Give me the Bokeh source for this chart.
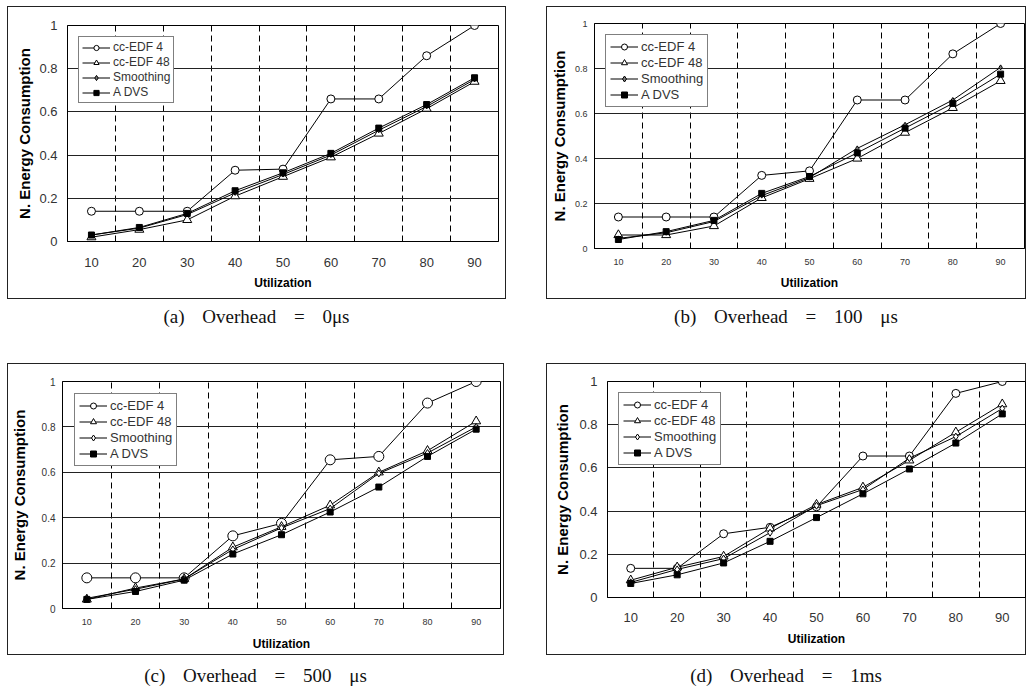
from bokeh.plotting import figure
from bokeh.models import (Range1d, FixedTicker, Legend, LegendItem, Div, Spacer,
                          ColumnDataSource, CustomJSTickFormatter)
from bokeh.layouts import column, row
from bokeh.embed import file_html
from bokeh.resources import INLINE

# ---------------- data ----------------
utilization = [10, 20, 30, 40, 50, 60, 70, 80, 90]
series_names = ["cc-EDF 4", "cc-EDF 48", "Smoothing", "A DVS"]

# (a) Overhead = 0us
a_ccedf4 = [0.14, 0.14, 0.14, 0.33, 0.335, 0.66, 0.66, 0.86, 1.0]
a_ccedf48 = [0.02, 0.055, 0.10, 0.21, 0.30, 0.39, 0.50, 0.615, 0.74]
a_smoothing = [0.03, 0.062, 0.125, 0.225, 0.31, 0.40, 0.515, 0.625, 0.75]
a_advs = [0.03, 0.065, 0.13, 0.235, 0.318, 0.408, 0.525, 0.634, 0.758]

# (b) Overhead = 100 us
b_ccedf4 = [0.14, 0.14, 0.14, 0.325, 0.345, 0.66, 0.66, 0.865, 1.0]
b_ccedf48 = [0.06, 0.06, 0.10, 0.225, 0.31, 0.40, 0.515, 0.625, 0.745]
b_smoothing = [0.045, 0.07, 0.12, 0.235, 0.315, 0.445, 0.55, 0.66, 0.805]
b_advs = [0.04, 0.075, 0.125, 0.245, 0.32, 0.425, 0.535, 0.645, 0.775]

# (c) Overhead = 500 us
c_ccedf4 = [0.135, 0.135, 0.135, 0.32, 0.375, 0.655, 0.67, 0.905, 1.0]
c_ccedf48 = [0.04, 0.09, 0.13, 0.27, 0.36, 0.455, 0.60, 0.695, 0.825]
c_smoothing = [0.045, 0.085, 0.13, 0.26, 0.355, 0.44, 0.595, 0.685, 0.80]
c_advs = [0.04, 0.075, 0.125, 0.24, 0.325, 0.425, 0.535, 0.67, 0.79]

# (d) Overhead = 1ms
d_ccedf4 = [0.135, 0.135, 0.295, 0.325, 0.42, 0.655, 0.655, 0.945, 1.0]
d_ccedf48 = [0.08, 0.14, 0.19, 0.32, 0.43, 0.51, 0.635, 0.765, 0.895]
d_smoothing = [0.07, 0.13, 0.18, 0.30, 0.425, 0.50, 0.645, 0.745, 0.875]
d_advs = [0.065, 0.105, 0.16, 0.26, 0.37, 0.48, 0.595, 0.715, 0.85]

x_tick_labels = ["10", "20", "30", "40", "50", "60", "70", "80", "90"]
x_divider_lines = [15, 25, 35, 45, 55, 65, 75, 85]
y_ticks = [0, 0.2, 0.4, 0.6, 0.8, 1.0]
y_tick_labels = ["0", "0.2", "0.4", "0.6", "0.8", "1"]
y_grid_lines = [0.2, 0.4, 0.6, 0.8]

captions = ["(a) Overhead = 0\u03bcs", "(b) Overhead = 100 \u03bcs",
            "(c) Overhead = 500 \u03bcs", "(d) Overhead = 1ms"]
y_label = "N. Energy Consumption"
x_label = "Utilization"

SANS = "Liberation Sans"


def make_panel(series, width, height, left, right, top, bottom,
               ytick_size, xtick_size, ytick_standoff, ylabel_standoff,
               xtick_standoff, xlabel_standoff, ylabel_size,
               legend_margin, legend_font, legend_item_h, legend_spacing,
               legend_padding, sizes, diamond_fill):
    p = figure(width=width, height=height, x_range=Range1d(5, 95),
               y_range=Range1d(0, 1), output_backend="svg",
               toolbar_location=None, min_border_left=left,
               min_border_right=right, min_border_top=top,
               min_border_bottom=bottom,
               styles={"outline": "1px solid #222", "outline-offset": "-1px",
                       "background-color": "white"})
    p.outline_line_color = "black"
    p.outline_line_width = 1
    p.background_fill_color = "white"
    p.border_fill_color = None

    # x axis
    p.xaxis.ticker = FixedTicker(ticks=utilization)
    p.xaxis.formatter = CustomJSTickFormatter(args=dict(labels=x_tick_labels),
                                              code="return labels[index];")
    p.xaxis.major_tick_line_color = None
    p.xaxis.major_tick_out = 0
    p.xaxis.major_tick_in = 0
    p.xaxis.minor_tick_line_color = None
    p.xaxis.minor_tick_out = 0
    p.xaxis.axis_line_color = "black"
    p.xaxis.major_label_text_font = SANS
    p.xaxis.major_label_text_font_size = f"{xtick_size}px"
    p.xaxis.major_label_text_color = "#333333"
    p.xaxis.major_label_standoff = xtick_standoff
    p.xaxis.axis_label = x_label
    p.xaxis.axis_label_text_font = SANS
    p.xaxis.axis_label_text_font_style = "bold"
    p.xaxis.axis_label_text_font_size = "12px"
    p.xaxis.axis_label_text_color = "black"
    p.xaxis.axis_label_standoff = xlabel_standoff

    # y axis
    p.yaxis.ticker = FixedTicker(ticks=y_ticks)
    p.yaxis.formatter = CustomJSTickFormatter(args=dict(labels=y_tick_labels),
                                              code="return labels[index];")
    p.yaxis.major_tick_line_color = None
    p.yaxis.major_tick_out = 0
    p.yaxis.major_tick_in = 0
    p.yaxis.minor_tick_line_color = None
    p.yaxis.minor_tick_out = 0
    p.yaxis.axis_line_color = "black"
    p.yaxis.major_label_text_font = SANS
    p.yaxis.major_label_text_font_size = f"{ytick_size}px"
    p.yaxis.major_label_text_color = "#333333"
    p.yaxis.major_label_standoff = ytick_standoff
    p.yaxis.axis_label = y_label
    p.yaxis.axis_label_text_font = SANS
    p.yaxis.axis_label_text_font_style = "bold"
    p.yaxis.axis_label_text_font_size = f"{ylabel_size}px"
    p.yaxis.axis_label_text_color = "black"
    p.yaxis.axis_label_standoff = ylabel_standoff

    # grids
    p.xgrid.ticker = FixedTicker(ticks=x_divider_lines)
    p.xgrid.grid_line_color = "black"
    p.xgrid.grid_line_dash = "6 4"
    p.xgrid.grid_line_width = 1
    p.ygrid.ticker = FixedTicker(ticks=y_grid_lines)
    p.ygrid.grid_line_color = "#222222"
    p.ygrid.grid_line_width = 1

    markers = ["circle", "triangle", "diamond", "square"]
    fills = ["white", "white", diamond_fill, "black"]
    items = []
    for name, vals, mk, fc, sz in zip(series_names, series, markers, fills, sizes):
        src = ColumnDataSource(dict(x=utilization, y=vals))
        lr = p.line("x", "y", source=src, line_color="black", line_width=1)
        sr = p.scatter("x", "y", source=src, marker=mk, size=sz,
                       fill_color=fc, line_color="black", line_width=1)
        items.append(LegendItem(label=name, renderers=[lr, sr]))

    legend = Legend(items=items, location="top_left")
    legend.margin = legend_margin
    legend.padding = legend_padding
    legend.spacing = legend_spacing
    legend.glyph_width = 28
    legend.glyph_height = legend_item_h
    legend.label_height = legend_item_h
    legend.label_standoff = 3
    legend.label_text_font = SANS
    legend.label_text_font_size = f"{legend_font}px"
    legend.label_text_color = "#333333"
    legend.border_line_color = "black"
    legend.border_line_width = 1
    legend.background_fill_color = "white"
    legend.background_fill_alpha = 1
    p.add_layout(legend)
    return p


def caption(text, width, height, top):
    html = (f'<div style="width:{width}px;text-align:center;'
            f'font-family:\'Liberation Serif\',serif;font-size:19px;line-height:22px;'
            f'word-spacing:13px;color:#111;margin:{top}px 0 0 0;white-space:nowrap">{text}</div>')
    return Div(text=html, width=width, height=height, margin=0)


pa = make_panel([a_ccedf4, a_ccedf48, a_smoothing, a_advs], 499, 293,
                60, 8, 19, 58, 13, 13, 10, 3, 16, 6, 15,
                11, 12, 13, 1, 3, [8, 9, 5, 6], "#777777")
pb = make_panel([b_ccedf4, b_ccedf48, b_smoothing, b_advs], 480, 293,
                48, 2, 17, 51, 9, 9, 7, 4, 10, 8, 15,
                11, 13, 15, 1, 4, [8, 9, 5, 6], "#777777")
pc = make_panel([c_ccedf4, c_ccedf48, c_smoothing, c_advs], 497, 292,
                47, 4, 18, 47, 10, 9, 7, 11, 10, 9, 15,
                12, 13, 15, 1, 4, [10, 9, 7, 6], "white")
pd = make_panel([d_ccedf4, d_ccedf48, d_smoothing, d_advs], 480, 292,
                61, 1, 18, 58, 13, 13, 10, 5, 15, 7, 15,
                11, 13, 15, 1, 4, [8, 9, 7, 6], "white")

layout = column(
    Spacer(width=1026, height=6),
    row(Spacer(width=7, height=293), column(pa), Spacer(width=40, height=293), column(pb)),
    row(Spacer(width=7, height=64), caption(captions[0], 499, 64, 7),
        Spacer(width=40, height=64), caption(captions[1], 480, 64, 7)),
    row(Spacer(width=7, height=292), column(pc), Spacer(width=42, height=292), column(pd)),
    row(Spacer(width=7, height=40), caption(captions[2], 497, 40, 10),
        Spacer(width=42, height=40), caption(captions[3], 480, 40, 10)),
)

open("out.html", "w").write(file_html(layout, INLINE))
